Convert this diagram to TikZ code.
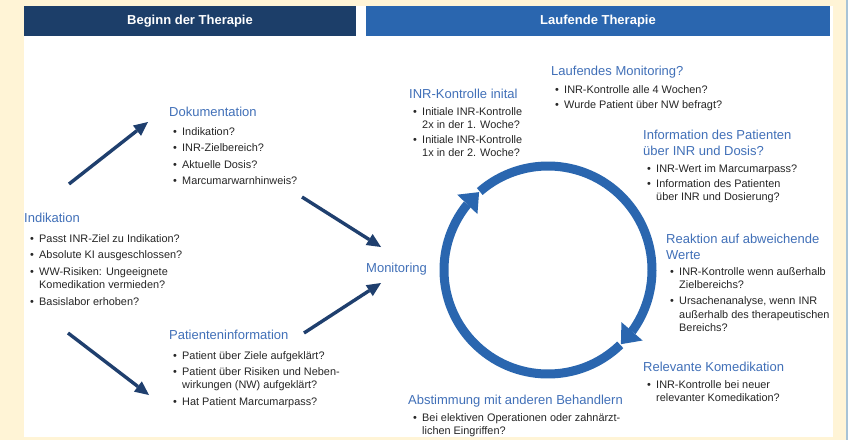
\documentclass[tikz,border=0pt]{standalone}
\usepackage{fontspec}
\setmainfont{Liberation Sans}
\usetikzlibrary{arrows.meta,bending,calc}
\definecolor{cream}{HTML}{FFF4D6}
\definecolor{stripe}{HTML}{A8C3D6}
\definecolor{navyhead}{HTML}{1C3E69}
\definecolor{bluehead}{HTML}{2A66AF}
\definecolor{headblue}{HTML}{4170B8}
\definecolor{bodytext}{HTML}{262626}
\definecolor{arrownavy}{HTML}{1F3F6E}
\definecolor{circblue}{HTML}{2A66AF}
\newcommand{\blst}[1]{\begin{tabular}[t]{@{}l@{\hspace{5.2pt}}l@{}}#1\end{tabular}}
\newcommand{\hlst}[1]{\begin{tabular}[t]{@{}l@{}}#1\end{tabular}}
\renewcommand{\arraystretch}{1}
\begin{document}
\begin{tikzpicture}[x=1pt,y=-1pt,
  head/.style={anchor=base west, inner sep=0pt, text=headblue, font=\fontsize{13}{15.8}\selectfont},
  blist/.style={anchor=base west, inner sep=0pt, text=bodytext, font=\fontsize{10.9}{13.3}\selectfont},
  bar/.style={inner sep=0pt, text=white, font=\bfseries\fontsize{13}{15}\selectfont, minimum height=30pt},
  navyarrow/.style={draw=arrownavy, line width=3.4pt, -{Triangle[length=14pt,width=13pt,line width=0pt]}},
  cyc/.style={draw=circblue, line width=9pt, -{Triangle[length=17pt,width=28pt,line width=0pt]}}]
\useasboundingbox (0,0) rectangle (848,440);
\fill[cream] (0,0) rectangle (848,440);
\fill[white] (24,6) rectangle (833,437);
\fill[stripe] (846,0) rectangle (848,440);

% header bars
\node[bar, fill=navyhead, minimum width=332pt] (hb) at (190,21) {Beginn der Therapie};
\node[bar, fill=bluehead, minimum width=464pt] (hl) at (598,21) {Laufende Therapie};

% left column
\node[head] (dok) at (169,116.5) {Dokumentation};
\node[blist] (dokl) at (173,135) {\blst{• & Indikation?\\[3.3pt]
 • & INR-Zielbereich?\\[3.3pt]
 • & Aktuelle Dosis?\\[3.3pt]
 • & Marcumarwarnhinweis?}};

\node[head] (ind) at (24,222.5) {Indikation};
\node[blist] (indl) at (30,242) {\blst{• & Passt INR-Ziel zu Indikation?\\[3.3pt]
 • & Absolute KI ausgeschlossen?\\[3.3pt]
 • & WW-Risiken: Ungeeignete\\
   & Komedikation vermieden?\\[3.3pt]
 • & Basislabor erhoben?}};

\node[head] (pat) at (169,339.5) {Patienteninformation};
\node[blist] (patl) at (173,359) {\blst{• & Patient über Ziele aufgeklärt?\\[3.3pt]
 • & Patient über Risiken und Neben-\\
   & wirkungen (NW) aufgeklärt?\\[3.3pt]
 • & Hat Patient Marcumarpass?}};

\node[head] (mon) at (366,272.5) {Monitoring};

% left arrows
\coordinate (a1s) at (69,184);  \coordinate (a1e) at (148,122);
\coordinate (a2s) at (302,197); \coordinate (a2e) at (381,247);
\coordinate (a3s) at (68,333);  \coordinate (a3e) at (149,395);
\coordinate (a4s) at (304,333); \coordinate (a4e) at (381,283);
\draw[navyarrow] (a1s) -- (a1e);
\draw[navyarrow] (a2s) -- (a2e);
\draw[navyarrow] (a3s) -- (a3e);
\draw[navyarrow] (a4s) -- (a4e);

% cycle
\coordinate (C) at (548,270);
\draw[cyc] ($(C)+(131:104pt)$) arc[start angle=131, end angle=-45.5, radius=104pt];
\draw[cyc] ($(C)+(-46:104pt)$) arc[start angle=-46, end angle=-228.5, radius=104pt];

% right column
\node[head] (inr) at (409,98.5) {INR-Kontrolle inital};
\node[blist] (inrl) at (413,115) {\blst{• & Initiale INR-Kontrolle\\
   & 2x in der 1. Woche?\\[2pt]
 • & Initiale INR-Kontrolle\\
   & 1x in der 2. Woche?}};

\node[head] (lauf) at (551,75.5) {Laufendes Monitoring?};
\node[blist] (laufl) at (555,93) {\blst{• & INR-Kontrolle alle 4 Wochen?\\[2pt]
 • & Wurde Patient über NW befragt?}};

\node[head] (info) at (643,139.5) {\hlst{Information des Patienten\\über INR und Dosis?}};
\node[blist] (infol) at (647,172) {\blst{• & INR-Wert im Marcumarpass?\\[2pt]
 • & Information des Patienten\\
   & über INR und Dosierung?}};

\node[head] (reak) at (666,243.5) {\hlst{Reaktion auf abweichende\\Werte}};
\node[blist] (reakl) at (670,275) {\blst{• & INR-Kontrolle wenn außerhalb\\
   & Zielbereichs?\\[3.3pt]
 • & Ursachenanalyse, wenn INR\\
   & außerhalb des therapeutischen\\
   & Bereichs?}};

\node[head] (rel) at (643,371.5) {Relevante Komedikation};
\node[blist] (rell) at (647,388) {\blst{• & INR-Kontrolle bei neuer\\
   & relevanter Komedikation?}};

\node[head] (abst) at (408,404.5) {Abstimmung mit anderen Behandlern};
\node[blist] (abstl) at (413,421) {\blst{• & Bei elektiven Operationen oder zahnärzt-\\
   & lichen Eingriffen?}};
\end{tikzpicture}
\end{document}
